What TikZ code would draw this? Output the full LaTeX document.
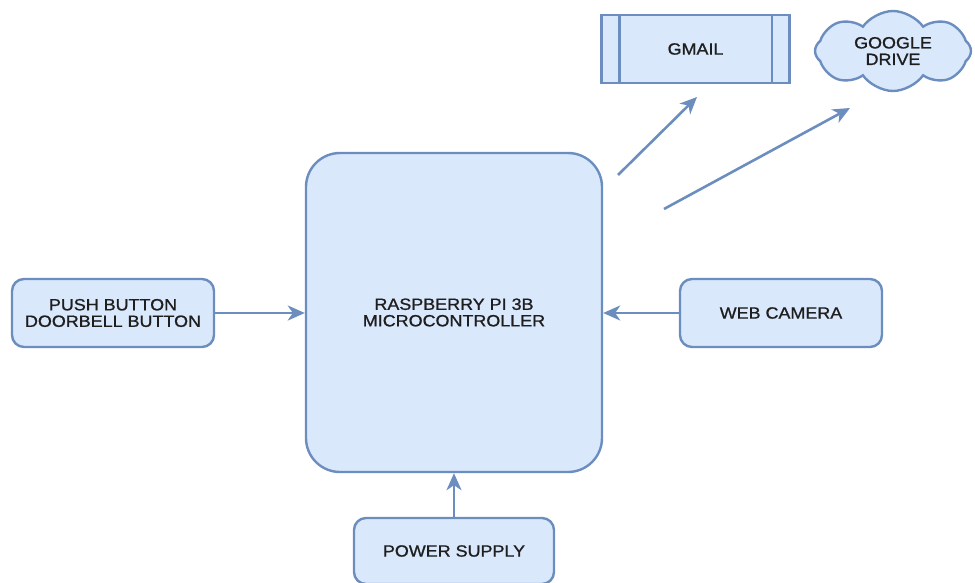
\documentclass[tikz,border=0pt]{standalone}
\usepackage{fontspec}
\setmainfont{Liberation Sans}[FakeStretch=1.1, FakeBold=1]
\usetikzlibrary{shapes.symbols,arrows.meta}
\definecolor{boxfill}{HTML}{DAE8FC}
\definecolor{boxline}{HTML}{6C8EBF}
\definecolor{txt}{HTML}{1E1E1E}
\tikzset{
  blk/.style={draw=boxline, fill=boxfill, line width=2.4pt, inner sep=0pt,
    text=txt, align=center, font=\fontsize{16.3}{16.5}\selectfont},
  conn/.style={draw=boxline, line width=2.6pt,
    -{Stealth[length=17pt, width=15pt, inset=5pt]}},
}
\begin{document}
\begin{tikzpicture}[x=1pt, y=-1pt]
\useasboundingbox (0,0) rectangle (975,583);
% main
\node[blk, rounded corners=34pt, minimum width=296pt, minimum height=319pt] (pi) at (454,312.5)
  {RASPBERRY PI 3B\\MICROCONTROLLER};
\node[blk, rounded corners=12pt, minimum width=202pt, minimum height=68pt] (push) at (113,313)
  {PUSH BUTTON\\DOORBELL BUTTON};
\node[blk, rounded corners=12pt, minimum width=202pt, minimum height=68pt] (cam) at (781,313)
  {WEB CAMERA};
\node[blk, rounded corners=12pt, minimum width=200pt, minimum height=66pt] (pwr) at (454,551)
  {POWER SUPPLY};
\node[blk, minimum width=188pt, minimum height=68pt] (gmail) at (695.5,49)
  {GMAIL};
\draw[boxline, line width=2.4pt] ([xshift=19pt]gmail.north west) -- ([xshift=19pt]gmail.south west);
\draw[boxline, line width=2.4pt] ([xshift=-19pt]gmail.north east) -- ([xshift=-19pt]gmail.south east);
\node[blk, cloud, cloud puffs=8, cloud puff arc=110, cloud ignores aspect, minimum width=156pt, minimum height=80pt] (drive) at (893,51)
  {GOOGLE\\DRIVE};
% connectors
\draw[conn] (push.east) -- (pi.west |- push.east);
\draw[conn] (cam.west) -- (pi.east |- cam.west);
\draw[conn] (pwr.north) -- (pi.south -| pwr.north);
\coordinate (g0) at (618,175);
\coordinate (g1) at (697,97);
\coordinate (d0) at (664,209);
\coordinate (d1) at (850,108);
\draw[conn] (g0) -- (g1);
\draw[conn] (d0) -- (d1);
\end{tikzpicture}
\end{document}
